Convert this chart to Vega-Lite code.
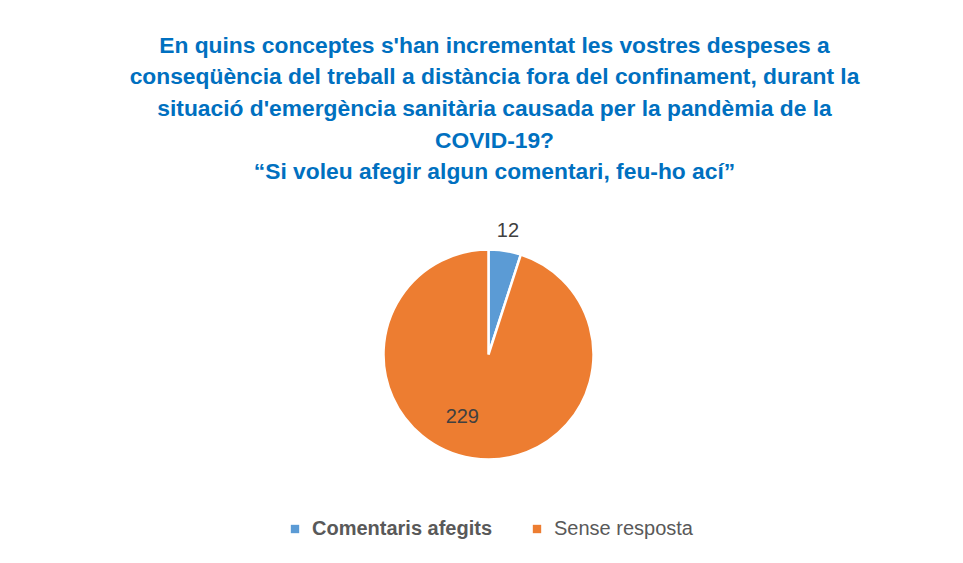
{
  "$schema": "https://vega.github.io/schema/vega-lite/v6.json",
  "width": 963,
  "height": 563,
  "autosize": {"type": "fit", "contains": "padding"},
  "padding": {"left": 14, "right": 0, "top": 34, "bottom": 24},
  "background": "white",
  "config": {"view": {"stroke": null}, "legend": {"layout": {"bottom": {"anchor": "middle"}}}},
  "title": {
    "text": [
      "En quins conceptes s'han incrementat les vostres despeses a",
      "conseqüència del treball a distància fora del confinament, durant la",
      "situació d'emergència sanitària causada per la pandèmia de la",
      "COVID-19?",
      "“Si voleu afegir algun comentari, feu-ho ací”"
    ],
    "font": "Liberation Sans",
    "fontSize": 22.8,
    "fontWeight": "bold",
    "color": "#0070C0",
    "lineHeight": 31.6,
    "anchor": "middle",
    "dx": 6,
    "offset": 12
  },
  "data": {
    "values": [
      {"categoria": "Comentaris afegits", "respostes": 12},
      {"categoria": "Sense resposta", "respostes": 229}
    ]
  },
  "encoding": {
    "theta": {"field": "respostes", "type": "quantitative", "stack": true},
    "color": {
      "field": "categoria",
      "type": "nominal",
      "scale": {"domain": ["Comentaris afegits", "Sense resposta"], "range": ["#5B9BD5", "#ED7D31"]},
      "legend": {
        "title": null,
        "orient": "bottom",
        "direction": "horizontal",
        "symbolType": "square",
        "symbolSize": 70,
        "symbolStrokeWidth": 0,
        "labelFont": "Liberation Sans",
        "labelFontSize": 20,
        "labelColor": "#595959",
        "labelLimit": 400,
        "labelFontWeight": {"expr": "datum.label == 'Comentaris afegits' ? 'bold' : 'normal'"},
        "columnPadding": 34,
        "labelOffset": 7,
        "offset": 6
      }
    }
  },
  "layer": [
    {
      "mark": {"type": "arc", "radius": 105, "stroke": "white", "strokeWidth": 2.5}
    },
    {
      "transform": [{"filter": "datum.categoria == 'Comentaris afegits'"}],
      "mark": {"type": "text", "radius": 125, "font": "Liberation Sans", "fontSize": 20},
      "encoding": {"text": {"field": "respostes", "type": "quantitative"}, "color": {"value": "#404040"}}
    },
    {
      "transform": [{"filter": "datum.categoria == 'Sense resposta'"}],
      "mark": {"type": "text", "radius": 63, "dx": -36, "font": "Liberation Sans", "fontSize": 20},
      "encoding": {"text": {"field": "respostes", "type": "quantitative"}, "color": {"value": "#404040"}}
    }
  ]
}
